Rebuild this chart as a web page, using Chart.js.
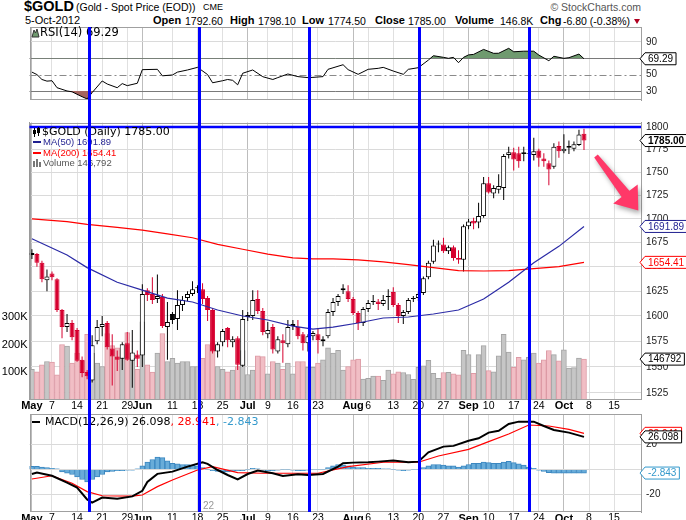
<!DOCTYPE html>
<html>
<head>
<meta charset="utf-8">
<script src="https://cdn.jsdelivr.net/npm/chart.js@4.4.1/dist/chart.umd.min.js"></script>
<style>
html, body { margin: 0; padding: 0; background: #fff; }
body { width: 686px; height: 520px; position: relative; overflow: hidden; font-family: "Liberation Sans", Arial, sans-serif; color: #000; }
canvas { position: absolute; left: 0; display: block; }
.t { position: absolute; white-space: nowrap; line-height: 1; }
.b { font-weight: bold; font-size: 11px; top: 15px; }
.n { font-size: 10.5px; top: 15.5px; }
</style>
</head>
<body>
<div class="t" style="left:24px;top:-1px;font-weight:bold;font-size:14.5px">$GOLD</div>
<div class="t" style="left:76px;top:2px;font-size:10.5px">(Gold - Spot Price (EOD))</div>
<div class="t" style="left:203px;top:3px;font-size:9px">CME</div>
<div class="t" style="right:45px;top:2px;font-size:10.5px;color:#555">&copy; StockCharts.com</div>

<div class="t n" style="left:25px;font-size:11px;top:15px">5-Oct-2012</div>
<div class="t b" style="left:153px">Open</div><div class="t n" style="left:185px">1792.60</div>
<div class="t b" style="left:230px">High</div><div class="t n" style="left:258px">1798.10</div>
<div class="t b" style="left:302px">Low</div><div class="t n" style="left:328px">1774.50</div>
<div class="t b" style="left:375px">Close</div><div class="t n" style="left:408px">1785.00</div>
<div class="t b" style="left:455px">Volume</div><div class="t n" style="left:500px">146.8K</div>
<div class="t b" style="left:540px">Chg</div><div class="t n" style="left:563px">-6.80 (-0.38%)</div>
<div style="position:absolute;left:634px;top:19px;width:0;height:0;border-left:3.5px solid transparent;border-right:3.5px solid transparent;border-top:5px solid #b00020"></div>

<canvas id="rsi" width="686" height="80" style="top:24px;width:686px;height:80px"></canvas>
<canvas id="main" width="686" height="312" style="top:104px;width:686px;height:312px"></canvas>
<canvas id="macd" width="686" height="110" style="top:410px;width:686px;height:110px"></canvas>

<script>
// daily candles, 1 May 2012 .. 5 Oct 2012 (trading day index 0..110)
var openP = [1664,1663,1654,1636,1643,1637,1606,1589,1593,1586,
  1557,1545,1537,1575,1589,1593,1568,1560,1558,1573,
  1556,1562,1561,1626,1622,1617,1619,1589,1602,1597,
  1611,1618,1622,1629,1627,1618,1606,1565,1574,1588,
  1574,1578,1551,1601,1600,1617,1605,1582,1589,1565,
  1576,1572,1592,1589,1582,1573,1580,1582,1575,1580,
  1604,1614,1628,1625,1617,1603,1593,1607,1615,1614.5,
  1612,1620,1624,1611,1600,1604,1618,1618,1623,1639,
  1655,1674,1673,1666,1670,1659,1657,1692,1698,1696,
  1703,1738,1727,1731,1733,1769,1772,1771,1772,1770,
  1769,1774,1765,1760,1756,1779,1773,1779,1776,1780,
  1792.6];
var highP = [1668,1664,1656,1647,1645,1638,1607,1602,1596,1588,
  1560,1547,1581,1596,1600,1595,1582,1566,1574,1584,
  1586,1566,1632,1628,1639,1642,1622,1614,1604,1626,
  1620,1625,1635,1631,1633,1620,1608,1574,1587,1589,
  1580,1580,1606,1604,1626,1626,1608,1594,1592,1580,
  1582,1596,1596,1596,1584,1582,1585,1587,1580,1607,
  1618,1622,1632,1631,1619,1605,1609,1616,1621,1617,
  1621,1627,1629,1613,1606,1618,1620,1624,1640,1656,
  1678,1677,1680,1672,1672,1667,1694,1700,1701,1717,
  1745,1745,1736,1748,1770,1778,1777,1778,1778,1776,
  1788,1776,1771,1763,1782,1784,1792,1785,1784,1797,
  1798.1];
var lowP = [1658,1650,1634,1625,1636,1604,1578,1584,1576,1555,
  1540,1538,1535,1572,1580,1567,1532,1546,1547,1556,
  1530,1550,1550,1615,1612,1613,1588,1557,1592,1586,
  1605,1615,1620,1623,1612,1595,1563,1559,1570,1569,
  1569,1547,1550,1595,1596,1602,1581,1578,1563,1563,
  1554,1569,1586,1577,1566,1565,1576,1563,1570,1578,
  1600,1610,1622,1614,1601,1586,1590,1604,1611,1606,
  1610,1606,1609,1593,1592,1602,1614,1615,1621,1637,
  1653,1665,1664,1663,1656,1653,1645,1689,1689,1690,
  1701,1727,1722,1727,1720,1765,1752,1755,1762,1762,
  1763,1756,1756,1736,1754,1766,1771,1770,1773,1779,
  1774.5];
var closeP = [1662,1654,1637,1640,1639,1606,1589,1593,1579,1556,
  1544,1541,1571,1589,1592,1569,1560,1557,1572,1557,
  1564,1558,1622,1621,1616,1620,1590,1594,1596,1611,
  1616,1622,1627,1628,1617,1606,1565,1572,1585,1576,
  1577,1552,1597,1599,1616,1605,1584,1586,1567,1577,
  1573,1589,1590,1580,1573,1580,1583,1576,1577,1604,
  1614,1620,1626,1617,1603,1593,1607,1613,1614,1612,
  1616,1619,1611,1600,1604,1616,1617,1622,1638,1654,
  1672,1673,1666,1670,1659,1657,1692,1697,1695,1703,
  1738,1728,1733,1735,1768,1772,1764,1762,1770,1771,
  1773,1766,1762,1753,1778,1773,1776,1777,1781,1791.8,
  1785];
// volume in thousands
var volK = [110,101,126,138,136,90,200,194,132,169,
  141,237,169,132,120,240,196,188,150,243,
  150,110,282,126,100,169,240,138,150,132,
  138,138,120,120,150,200,206,120,110,101,
  107,120,178,91,107,159,156,93,138,132,
  110,132,93,138,138,117,117,132,144,188,
  169,179,107,120,144,147,74,77,85,85,
  70,107,93,101,98,91,73,117,122,142,
  95,77,98,99,93,90,179,163,95,163,
  196,105,101,159,237,172,117,153,144,153,
  169,132,144,178,163,141,181,114,116,151,
  146.792];

// moving averages read at selected days
var maIdx = [0,7,11,17,22,27,32,37,42,47,52,56,60,65,70,75,80,85,90,95,100,105,110];
var ma50 = [1679,1662,1649,1634,1626,1618,1614,1606,1600,1596,1590,1587,1589,1593,1598,1599,1602,1606,1617,1634,1654,1671,1691.89];
var ma200 = [1700,1697,1694,1691,1688,1684,1680,1673,1668,1663,1659,1658,1658,1657,1655,1652,1649,1646,1645.5,1646,1648,1650,1654.41];

// RSI(14)
var rsiIdx = [0,1,2,3,4,5,7,8,10,11,12,14,15,17,18,19,21,22,25,26,28,29,31,33,35,36,38,39,40,41,42,44,46,48,49,51,53,55,56,58,59,62,63,65,67,69,70,72,74,75,77,79,80,82,83,84,85,86,87,88,90,92,93,95,96,98,100,101,103,104,106,107,109,110];
var rsiVal = [53,50,44,42,42.5,34,30,29,23,20.3,28,42.2,38.5,34,39,36.5,39.4,56,56.4,48.5,49.5,53,55.6,58.8,50,40,42.5,44,43,37.5,51.6,55.6,47.4,44,46.3,50.7,47.5,46.3,46.6,47.5,56.4,62,56,50.3,56.4,57.6,58.8,54.3,50.3,56.4,58.4,67.7,73,71,69.8,71,64.5,71,74,74.6,80.7,75.9,76,82,77.8,78.5,78.5,73.8,66.9,72.3,69.8,70.6,75,69.29];

// MACD(12,26,9)
var macdIdx = [0,1,4,7,9,11,12,14,17,20,22,23,25,28,31,34,35,37,39,41,43,45,48,50,53,55,58,61,62,64,67,69,72,75,77,79,82,84,87,89,91,93,95,97,100,102,104,107,110];
var macdVal = [-3.6,-2.5,-5,-10.5,-14.5,-24,-26.5,-22.5,-23.3,-21.5,-17,-10,-3.5,-1.7,2.3,5.8,4.5,-0.4,-4.4,-7.9,-3.6,-0.9,-3,-5.2,-3.9,-4.4,-3.6,2.3,5,5.5,5.8,6.3,7.1,5.8,6.3,13.8,18.3,18.9,23,25,29.5,31,36.4,38.3,38.3,34.8,31.6,29.5,26.098];
var sigIdx = [0,4,8,11,14,20,22,25,28,33,36,41,46,50,57,63,70,77,81,87,91,95,99,103,107,110];
var sigVal = [-7.6,-5,-11,-17.7,-21,-21.3,-20.4,-13.7,-8.4,-0.4,2.3,-2.5,-3,-3,-3,2.3,5.8,5.8,10.8,16.1,22.3,28.4,35.6,34.8,32.1,28.941];
var histVal = [2.5,2.5,2,1.5,1,0.5,-2,-3,-4,-6,
  -8,-10,-8,-6,-4,-2,-1.5,-1,-1,-0.5,
  -0.5,0.5,3,6,8,10,9.5,7,5,4.5,
  4,4,3.5,3,1.5,0.3,-1,-1.5,-2,-2,
  -1.5,-1,-1,0.3,1,0.5,-0.5,-1,-1,-0.5,
  0.3,0.3,-0.5,-1,-1,-0.5,0.3,0.3,0.3,1.5,
  3,4,3.5,3,2,1.5,1.5,1,1,1,
  0.5,0.5,0.3,-0.5,-1,-0.5,0.3,0.3,1.5,3,
  4,4,3.5,3,3,2,3,4,5,5,
  6,5.5,5,5,6,6.5,5.5,4.5,3.5,2,
  1,-0.5,-1.5,-2.5,-3,-3,-3,-3,-3,-3,
  -2.843];

// date axis
var tickIdx = [0,4,9,14,19,22,28,33,38,43,47,52,57,64,67,72,77,82,87,91,96,101,106,111,116];
var tickLbl = ['May','7','14','21','29','Jun','11','18','25','Jul','9','16','23','Aug','6','13','20','27','Sep','10','17','24','Oct','8','15'];
var priceTicks = [1525,1550,1575,1600,1625,1650,1675,1700,1725,1750,1775,1800];
var volTicks = [100,200,300];
var rsiTicks = [30,50,70,90];
var macdTicks = [-20,0,20];
var cycleIdx = [11.4,33.3,55.2,77.1,99.0];
var levelLine = 1800;

var RED = '#d6002f', BLUE = '#0000ff', NAVY = '#1f1f8f';
var xMin = -0.48, xMax = 121.36;
var last = closeP.length - 1;
var days = closeP.map(function (_, i) { return i; });
var monthTick = tickLbl.map(function (l) { return isNaN(+l); });

Chart.defaults.font.family = '"Liberation Sans", Arial, sans-serif';
Chart.defaults.color = '#222';

function colorOf(i) {
  return (i === 0 || closeP[i] >= closeP[i - 1]) ? '#000000' : RED;
}
function pts(ix, vals) {
  return ix.map(function (x, k) { return { x: x, y: vals[k] }; });
}
function noPad(s) { s.paddingTop = 0; s.paddingBottom = 0; s.paddingLeft = 0; s.paddingRight = 0; }
function xAxis(showLabels, h) {
  return {
    type: 'linear', min: xMin, max: xMax, offset: false,
    grid: { color: function (c) { return monthTick[c.index] ? '#bdbdbd' : '#e0e0e0'; }, drawTicks: false, offset: false },
    border: { display: false },
    ticks: {
      display: showLabels, autoSkip: false, maxRotation: 0, minRotation: 0, padding: 0, color: '#000',
      font: function (c) {
        return monthTick[c.index] ? { size: 11, weight: 'bold' } : { size: 10.5, weight: 'normal' };
      },
      callback: function (v, i) { return tickLbl[i]; }
    },
    afterBuildTicks: function (s) { s.ticks = tickIdx.map(function (v) { return { value: v }; }); },
    afterFit: function (s) { s.height = h; noPad(s); }
  };
}
function rightAxis(min, max, ticks, label, extra) {
  var a = {
    position: 'right', min: min, max: max,
    grid: { color: '#dadada', drawTicks: false },
    border: { display: true, color: '#9a9a9a' },
    ticks: { padding: 5, color: '#222', font: { size: 10 }, callback: label },
    afterBuildTicks: function (s) { s.ticks = ticks.map(function (v) { return { value: v }; }); },
    afterFit: function (s) { s.width = 45; noPad(s); }
  };
  return Object.assign(a, extra || {});
}
function txt(ctx, s, x, y, font, color) {
  ctx.font = font; ctx.fillStyle = color; ctx.textAlign = 'left'; ctx.textBaseline = 'middle';
  ctx.fillText(s, x, y);
  return ctx.measureText(s).width;
}
function tag(ctx, xt, y, s, color, bold) {
  ctx.font = (bold ? 'bold ' : '') + '10px "Liberation Sans"';
  var w = ctx.measureText(s).width + 6;
  ctx.beginPath();
  ctx.moveTo(xt, y);
  ctx.lineTo(xt + 5, y - 6);
  ctx.lineTo(xt + 5 + w, y - 6);
  ctx.lineTo(xt + 5 + w, y + 6);
  ctx.lineTo(xt + 5, y + 6);
  ctx.closePath();
  ctx.fillStyle = '#fff'; ctx.fill();
  ctx.strokeStyle = color; ctx.lineWidth = 1; ctx.stroke();
  ctx.fillStyle = color; ctx.textAlign = 'left'; ctx.textBaseline = 'middle';
  ctx.fillText(s, xt + 8, y + 0.5);
}
function frame(chart) {
  var a = chart.chartArea, ctx = chart.ctx;
  ctx.strokeStyle = '#a0a0a0'; ctx.lineWidth = 1;
  ctx.strokeRect(Math.round(a.left) + 0.5, Math.round(a.top) + 0.5, Math.round(a.right - a.left) - 1, Math.round(a.bottom - a.top) - 1);
}
function cycles(chart, y0, y1) {
  var ctx = chart.ctx, xs = chart.scales.x;
  ctx.strokeStyle = BLUE; ctx.lineWidth = 3;
  cycleIdx.forEach(function (v) {
    var x = Math.round(xs.getPixelForValue(v)) + 0.5;
    ctx.beginPath(); ctx.moveTo(x, y0); ctx.lineTo(x, y1); ctx.stroke();
  });
}

// ---------- RSI panel ----------
new Chart(document.getElementById('rsi'), {
  type: 'line',
  data: {
    datasets: [
      { data: pts(rsiIdx, rsiVal), borderColor: '#000', borderWidth: 1, pointRadius: 0, tension: 0,
        fill: { target: { value: 70 }, above: '#6f9a6f', below: 'rgba(0,0,0,0)' } },
      { data: pts(rsiIdx, rsiVal), borderColor: 'rgba(0,0,0,0)', borderWidth: 0, pointRadius: 0, tension: 0,
        fill: { target: { value: 30 }, above: 'rgba(0,0,0,0)', below: '#a66560' } }
    ]
  },
  options: {
    responsive: false, animation: false, events: [],
    layout: { padding: { left: 29.5, top: 3, right: 0, bottom: 0 } },
    plugins: { legend: { display: false }, tooltip: { enabled: false } },
    scales: {
      x: xAxis(false, 4),
      y: rightAxis(19, 108, rsiTicks, function (v) { return v === 70 ? '' : String(v); }, {
        grid: { color: function (c) { return c.tick.value === 90 ? '#dadada' : 'rgba(0,0,0,0)'; }, drawTicks: false }
      })
    }
  },
  plugins: [{
    id: 'rsiDeco',
    beforeDatasetsDraw: function (chart) {
      var ctx = chart.ctx, a = chart.chartArea, ys = chart.scales.y;
      ctx.save();
      ctx.strokeStyle = '#7a7a7a'; ctx.lineWidth = 1;
      [70, 30].forEach(function (v) {
        var y = Math.round(ys.getPixelForValue(v)) + 0.5;
        ctx.beginPath(); ctx.moveTo(a.left, y); ctx.lineTo(a.right, y); ctx.stroke();
      });
      ctx.strokeStyle = '#8a8a8a'; ctx.setLineDash([7, 3, 2, 3]);
      var y5 = Math.round(ys.getPixelForValue(50)) + 0.5;
      ctx.beginPath(); ctx.moveTo(a.left, y5); ctx.lineTo(a.right, y5); ctx.stroke();
      ctx.restore();
    },
    afterDraw: function (chart) {
      var ctx = chart.ctx, a = chart.chartArea, ys = chart.scales.y;
      ctx.save();
      frame(chart);
      // legend
      ctx.beginPath();
      ctx.moveTo(32, 13); ctx.lineTo(34, 6); ctx.lineTo(35.5, 9); ctx.lineTo(37, 5); ctx.lineTo(39, 13); ctx.closePath();
      ctx.fillStyle = '#6f9a6f'; ctx.fill(); ctx.strokeStyle = '#333'; ctx.lineWidth = 1; ctx.stroke();
      txt(ctx, 'RSI(14) ' + rsiVal[rsiVal.length - 1].toFixed(2), 40, 9.5, '11.5px "DejaVu Sans"', '#000');
      cycles(chart, a.top, chart.height);
      tag(ctx, a.right - 1, ys.getPixelForValue(rsiVal[rsiVal.length - 1]), rsiVal[rsiVal.length - 1].toFixed(2), '#000', false);
      ctx.restore();
    }
  }]
});

// ---------- price panel ----------
new Chart(document.getElementById('main'), {
  type: 'bar',
  data: {
    datasets: [
      { type: 'bar', yAxisID: 'yv', order: 6, grouped: false, barThickness: 5, borderWidth: 1,
        data: days.map(function (i) { return { x: i, y: volK[i] }; }),
        backgroundColor: days.map(function (i) { return colorOf(i) === RED ? '#f1bec5' : '#c6c6c6'; }),
        borderColor: days.map(function (i) { return colorOf(i) === RED ? '#dd9aa5' : '#a4a4a4'; }) },
      { type: 'bar', yAxisID: 'y', order: 3, grouped: false, barThickness: 1, borderWidth: 0, inflateAmount: 0,
        data: days.map(function (i) { return { x: i, y: [lowP[i], highP[i]] }; }),
        backgroundColor: days.map(colorOf) },
      { type: 'bar', yAxisID: 'y', order: 2, grouped: false, barThickness: 5, borderWidth: 1, borderSkipped: false, inflateAmount: 0,
        data: days.map(function (i) { return { x: i, y: [Math.min(openP[i], closeP[i]), Math.max(openP[i], closeP[i])] }; }),
        backgroundColor: days.map(function (i) { return closeP[i] > openP[i] ? '#ffffff' : colorOf(i); }),
        borderColor: days.map(colorOf) },
      { type: 'line', yAxisID: 'y', order: 1, data: pts(maIdx, ma200), borderColor: '#ff0000', borderWidth: 1.2, pointRadius: 0 },
      { type: 'line', yAxisID: 'y', order: 0, data: pts(maIdx, ma50), borderColor: '#2b2ba6', borderWidth: 1.2, pointRadius: 0 }
    ]
  },
  options: {
    responsive: false, animation: false, events: [],
    layout: { padding: { left: 0, top: 18.5, right: 0, bottom: 0 } },
    plugins: { legend: { display: false }, tooltip: { enabled: false } },
    scales: {
      x: xAxis(true, 16.5),
      y: rightAxis(1518.8, 1805.2, priceTicks, function (v) { return String(v); }, { type: 'logarithmic' }),
      yv: {
        type: 'linear', position: 'left', min: 0, max: 1007,
        grid: { display: false, drawTicks: false },
        border: { display: true, color: '#9a9a9a' },
        ticks: { padding: 2, color: '#000', font: { size: 11 }, callback: function (v) { return v + 'K'; } },
        afterBuildTicks: function (s) { s.ticks = volTicks.map(function (v) { return { value: v }; }); },
        afterFit: function (s) { s.width = 29.5; noPad(s); }
      }
    }
  },
  plugins: [{
    id: 'mainDeco',
    afterDraw: function (chart) {
      var ctx = chart.ctx, a = chart.chartArea, ys = chart.scales.y, yv = chart.scales.yv;
      ctx.save();
      frame(chart);
      // horizontal level line
      var yl = Math.round(ys.getPixelForValue(levelLine));
      ctx.strokeStyle = BLUE; ctx.lineWidth = 2.5;
      ctx.beginPath(); ctx.moveTo(a.left, yl); ctx.lineTo(a.right, yl); ctx.stroke();
      // legend
      ctx.fillStyle = '#000';
      ctx.fillRect(34, 24, 1, 9); ctx.fillRect(33, 26, 3, 4);
      ctx.fillRect(38, 23, 1, 9); ctx.strokeStyle = '#000'; ctx.lineWidth = 1; ctx.strokeRect(37.5, 24.5, 2, 4);
      txt(ctx, '$GOLD (Daily) ' + closeP[last].toFixed(2), 42, 28.5, '11px "DejaVu Sans"', '#000');
      ctx.fillStyle = NAVY; ctx.fillRect(33, 37, 8, 2);
      txt(ctx, 'MA(50) ' + ma50[ma50.length - 1].toFixed(2), 43, 38.5, '9.5px "Liberation Sans"', NAVY);
      ctx.fillStyle = '#ff0000'; ctx.fillRect(33, 48, 8, 2);
      txt(ctx, 'MA(200) ' + ma200[ma200.length - 1].toFixed(2), 43, 49.5, '9.5px "Liberation Sans"', '#ff0000');
      ctx.fillStyle = '#777';
      ctx.fillRect(33, 57, 2, 6); ctx.fillRect(36, 55, 2, 8); ctx.fillRect(39, 58, 2, 5);
      txt(ctx, 'Volume ' + Math.round(volK[last] * 1000).toLocaleString('en-US'), 43, 59, '9.5px "Liberation Sans"', '#555');
      // cycle lines
      cycles(chart, 0, chart.height);
      // arrow annotation
      ctx.save();
      ctx.shadowColor = 'rgba(0,0,0,0.35)'; ctx.shadowBlur = 5; ctx.shadowOffsetX = 2; ctx.shadowOffsetY = 3;
      var ar = [[594.2, 157.4], [621.6, 197.0], [613.2, 203.5], [638.3, 210.5], [637.7, 184.4], [629.4, 190.8], [597.8, 154.6]];
      ctx.beginPath();
      ar.forEach(function (p, k) { if (k === 0) ctx.moveTo(p[0], p[1] - 104); else ctx.lineTo(p[0], p[1] - 104); });
      ctx.closePath(); ctx.fillStyle = '#ff3868'; ctx.fill();
      ctx.restore();
      // value tags
      var xt = a.right - 1;
      tag(ctx, xt, yv.getPixelForValue(volK[last]), String(Math.round(volK[last] * 1000)), '#000', false);
      tag(ctx, xt, ys.getPixelForValue(ma200[ma200.length - 1]), ma200[ma200.length - 1].toFixed(2), '#ff0000', false);
      tag(ctx, xt, ys.getPixelForValue(ma50[ma50.length - 1]), ma50[ma50.length - 1].toFixed(2), NAVY, false);
      tag(ctx, xt, ys.getPixelForValue(closeP[last]), closeP[last].toFixed(2), '#000', true);
      ctx.restore();
    }
  }]
});

// ---------- MACD panel ----------
new Chart(document.getElementById('macd'), {
  type: 'bar',
  data: {
    datasets: [
      { type: 'bar', order: 3, grouped: false, barThickness: 5, borderWidth: 1,
        data: days.map(function (i) { return { x: i, y: histVal[i] }; }),
        backgroundColor: '#68acd9', borderColor: '#3b87c0' },
      { type: 'line', order: 2, data: pts(sigIdx, sigVal), borderColor: '#ff0000', borderWidth: 1.2, pointRadius: 0 },
      { type: 'line', order: 1, data: pts(macdIdx, macdVal), borderColor: '#000', borderWidth: 2, pointRadius: 0 }
    ]
  },
  options: {
    responsive: false, animation: false, events: [],
    layout: { padding: { left: 29.5, top: 4, right: 0, bottom: 0 } },
    plugins: { legend: { display: false }, tooltip: { enabled: false } },
    scales: {
      x: xAxis(true, 8),
      y: rightAxis(-34, 44.4, macdTicks, function (v) { return v === 0 ? '' : String(v); })
    }
  },
  plugins: [{
    id: 'macdDeco',
    afterDraw: function (chart) {
      var ctx = chart.ctx, a = chart.chartArea, ys = chart.scales.y;
      ctx.save();
      frame(chart);
      ctx.fillStyle = '#000'; ctx.fillRect(32, 11, 8, 2);
      var f = '11px "DejaVu Sans"', x = 45;
      x += txt(ctx, 'MACD(12,26,9) ' + macdVal[macdVal.length - 1].toFixed(3), x, 12, f, '#000');
      x += txt(ctx, ', ' + sigVal[sigVal.length - 1].toFixed(3), x, 12, f, '#ff0000');
      txt(ctx, ', ' + histVal[last].toFixed(3), x, 12, f, '#3399cc');
      txt(ctx, '22', 203, 96, '10px "Liberation Sans"', '#999');
      cycles(chart, 0, a.bottom);
      var xt = a.right - 1;
      tag(ctx, xt, ys.getPixelForValue(sigVal[sigVal.length - 1]), sigVal[sigVal.length - 1].toFixed(3), '#ff0000', false);
      tag(ctx, xt, ys.getPixelForValue(macdVal[macdVal.length - 1]), macdVal[macdVal.length - 1].toFixed(3), '#000', false);
      tag(ctx, xt, ys.getPixelForValue(histVal[last]), histVal[last].toFixed(3), '#3399cc', false);
      ctx.restore();
    }
  }]
});
</script>
</body>
</html>
